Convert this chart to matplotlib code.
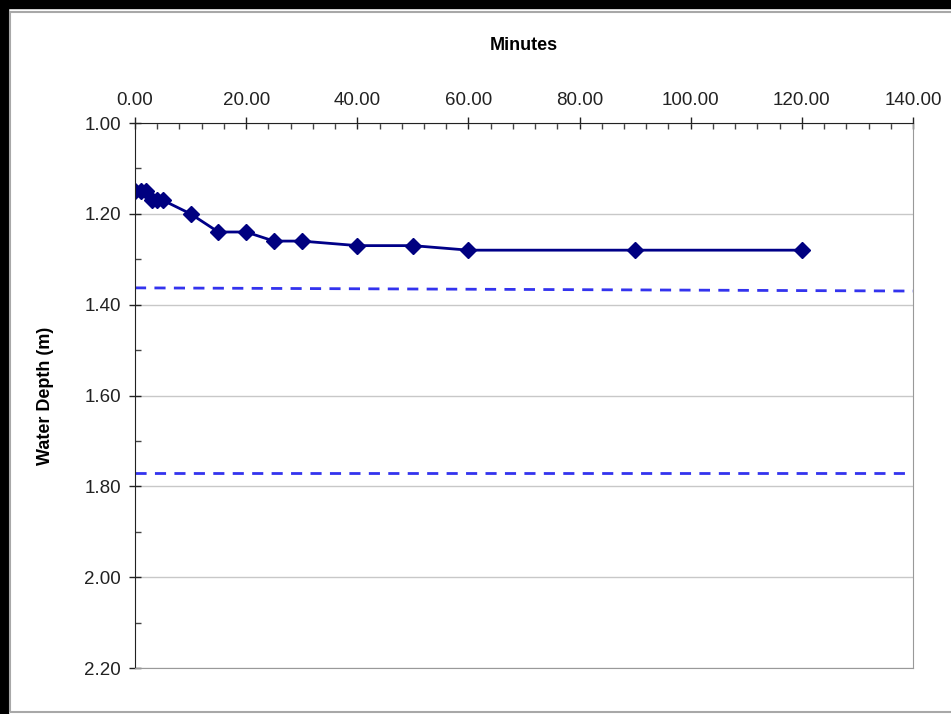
import matplotlib.pyplot as plt
from matplotlib.patches import Rectangle
from matplotlib.ticker import MultipleLocator, FormatStrFormatter

plt.rcParams['font.family'] = ['Liberation Sans', 'DejaVu Sans']

# measured water depth vs time
minutes = [0, 1, 2, 3, 4, 5, 10, 15, 20, 25, 30, 40, 50, 60, 90, 120]
depth = [1.15, 1.15, 1.15, 1.17, 1.17, 1.17, 1.20, 1.24, 1.24, 1.26, 1.26,
         1.27, 1.27, 1.28, 1.28, 1.28]

# reference levels (dashed)
ref_x = [0, 140]
ref_upper = [1.363, 1.370]
ref_lower = [1.771, 1.771]

fig = plt.figure(figsize=(9.51, 7.14), dpi=100)
fig.patch.set_facecolor('white')

# screenshot frame: black bands top/left, grey border
fig.add_artist(Rectangle((0, 1 - 8 / 714), 1, 8 / 714, transform=fig.transFigure,
                         color='black', zorder=0))
fig.add_artist(Rectangle((0, 0), 8 / 951, 1, transform=fig.transFigure,
                         color='black', zorder=0))
fig.add_artist(Rectangle((10 / 951, 2 / 714), 1, 1 - 14 / 714, transform=fig.transFigure,
                         fill=False, edgecolor='#a8a8a8', lw=1.5, zorder=0))

ax = fig.add_axes([135 / 951, 1 - 668 / 714, (913 - 135) / 951, (668 - 123) / 714])

ax.plot(ref_x, ref_upper, color='#3333ee', lw=2, dashes=(4, 3))
ax.plot(ref_x, ref_lower, color='#3333ee', lw=2, dashes=(4, 3))
ax.plot(minutes, depth, color='#000088', lw=2, marker='D', ms=8,
        markerfacecolor='#000080', markeredgecolor='#000080')

ax.set_xlim(0, 140)
ax.set_ylim(2.2, 1.0)
ax.xaxis.tick_top()
ax.xaxis.set_label_position('top')
ax.xaxis.set_major_locator(MultipleLocator(20))
ax.xaxis.set_minor_locator(MultipleLocator(4))
ax.xaxis.set_major_formatter(FormatStrFormatter('%.2f'))
ax.yaxis.set_major_locator(MultipleLocator(0.2))
ax.yaxis.set_minor_locator(MultipleLocator(0.1))
ax.yaxis.set_major_formatter(FormatStrFormatter('%.2f'))

ax.tick_params(axis='both', which='major', direction='inout', length=8,
               labelsize=13.5, color='#222222', width=1, labelcolor='#222222')
ax.tick_params(axis='both', which='minor', direction='in', length=4,
               color='#444444', width=1)
ax.tick_params(axis='x', pad=6)
ax.tick_params(axis='y', pad=6)

ax.grid(axis='y', which='major', color='#c8c8c8', lw=1)
ax.set_axisbelow(True)

ax.spines['top'].set_color('#222222')
ax.spines['left'].set_color('#222222')
ax.spines['right'].set_color('#999999')
ax.spines['bottom'].set_color('#999999')

ax.set_xlabel('Minutes', fontsize=13, fontweight='bold', labelpad=30)
ax.set_ylabel('Water Depth (m)', fontsize=13, fontweight='bold', labelpad=22)

fig.savefig('out.png', dpi=100)
